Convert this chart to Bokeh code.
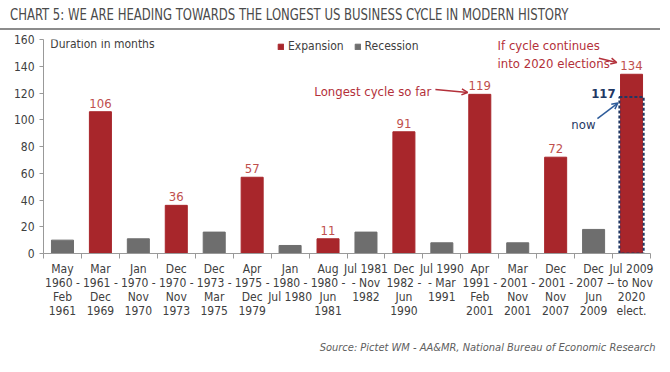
from bokeh.plotting import figure
from bokeh.models import (ColumnDataSource, Range1d, FixedTicker, Legend, LegendItem,
                          Label, Arrow, OpenHead, Title, Div)
from bokeh.layouts import column
from bokeh.core.properties import value
from bokeh.embed import file_html
from bokeh.resources import INLINE

FONT = "'DejaVu Sans Condensed', Roboto, sans-serif"

periods = ["May\n1960 -\nFeb\n1961", "Mar\n1961 -\nDec\n1969", "Jan\n1970 -\nNov\n1970",
           "Dec\n1970 -\nNov\n1973", "Dec\n1973 -\nMar\n1975", "Apr\n1975 -\nDec\n1979",
           "Jan\n1980 -\nJul 1980", "Aug\n1980 -\nJun\n1981", "Jul 1981\n- Nov\n1982",
           "Dec\n1982 -\nJun\n1990", "Jul 1990\n- Mar\n1991", "Apr\n1991 -\nFeb\n2001",
           "Mar\n2001 -\nNov\n2001", "Dec\n2001 -\nNov\n2007", "Dec\n2007 -\nJun\n2009",
           "Jul 2009\n- to Nov\n2020\nelect."]
phase = ["Recession", "Expansion"] * 8
durations = [10, 106, 11, 36, 16, 57, 6, 11, 16, 91, 8, 119, 8, 72, 18, 134]
current_months = 117
y_ticks = [0, 20, 40, 60, 80, 100, 120, 140, 160]

RED = "#A8262B"
GREY = "#6E6E6E"
LABEL_RED = "#C0504D"
NOTE_RED = "#B3303A"
NAVY = "#1F3864"

pos = [i + 0.5 for i in range(len(periods))]
exp = ColumnDataSource(dict(x=[p for p, ph in zip(pos, phase) if ph == "Expansion"],
                            top=[d for d, ph in zip(durations, phase) if ph == "Expansion"]))
exp.data["lbl"] = [str(v) for v in exp.data["top"]]
rec = ColumnDataSource(dict(x=[p for p, ph in zip(pos, phase) if ph == "Recession"],
                            top=[d for d, ph in zip(durations, phase) if ph == "Recession"]))

p = figure(frame_width=607, frame_height=214, output_backend="svg", toolbar_location=None,
           x_range=Range1d(0, len(periods)), y_range=Range1d(0, 160),
           min_border_left=43, min_border_right=12, min_border_top=9, min_border_bottom=4)
p.outline_line_color = None
p.grid.visible = False

r_rec = p.vbar(x="x", top="top", width=0.58, source=rec, color=GREY)
r_exp = p.vbar(x="x", top="top", width=0.58, source=exp, color=RED)
p.text(x="x", y="top", text="lbl", source=exp, y_offset=-4, text_align="center",
       text_baseline="bottom", text_color=LABEL_RED, text_font=value(FONT), text_font_size="13px")

# current cycle (dashed)
p.vbar(x=[pos[-1]], top=[current_months], width=0.64, fill_color=None, line_color=NAVY,
       line_width=2, line_dash="3 2")

# axes
xa = p.xaxis[0]
xa.ticker = FixedTicker(ticks=pos, minor_ticks=list(range(len(periods) + 1)))
xa.major_label_overrides = {p_: lab for p_, lab in zip(pos, periods)}
xa.major_tick_out = 0
xa.major_tick_in = 0
xa.minor_tick_out = 5
xa.minor_tick_in = 0
xa.minor_tick_line_color = "#999999"
xa.axis_line_color = "#999999"
xa.major_label_standoff = 3
xa.major_label_text_font = FONT
xa.major_label_text_font_size = "12px"
xa.major_label_text_line_height = 1.0
xa.major_label_text_color = "#404040"

ya = p.yaxis[0]
ya.ticker = FixedTicker(ticks=y_ticks)
ya.major_tick_out = 4
ya.major_tick_in = 0
ya.minor_tick_line_color = None
ya.axis_line_color = "#999999"
ya.major_tick_line_color = "#999999"
ya.major_label_text_font = FONT
ya.major_label_text_font_size = "12px"
ya.major_label_text_color = "#404040"
ya.major_label_standoff = 5

# legend
legend = Legend(items=[LegendItem(label="Expansion", renderers=[r_exp]),
                       LegendItem(label="Recession", renderers=[r_rec])],
                orientation="horizontal", location=(234, 200), border_line_color=None,
                background_fill_alpha=0, padding=0, margin=0, spacing=10,
                glyph_width=7, glyph_height=7, label_standoff=4, label_height=14,
                label_text_font=FONT, label_text_font_size="12px", label_text_color="#404040")
p.add_layout(legend, "center")

def note(x, y, text, color, size="13px", align="left", style="normal", baseline="middle"):
    p.add_layout(Label(x=x, y=y, text=text, text_color=color, text_font=FONT,
                       text_font_size=size, text_align=align, text_baseline=baseline,
                       text_font_style=style))

note(0.18, 157, "Duration in months", "#404040", size="12px")
note(10.22, 121.1, "Longest cycle so far", NOTE_RED, align="right")
note(11.97, 155.5, "If cycle continues", NOTE_RED)
note(11.97, 142.1, "into 2020 elections", NOTE_RED)
note(15.08, 119.6, str(current_months), NAVY, size="13px", align="right", style="bold")
note(14.55, 96.4, "now", NAVY, size="13px", align="right")

p.add_layout(Arrow(x_start=10.33, y_start=122.6, x_end=11.18, y_end=120.4, line_color=NOTE_RED,
                   line_width=1.5, end=OpenHead(size=6, line_color=NOTE_RED, line_width=1.5)))
p.add_layout(Arrow(x_start=14.64, y_start=146.0, x_end=15.11, y_end=142.8, line_color=NOTE_RED,
                   line_width=1.5, end=OpenHead(size=6, line_color=NOTE_RED, line_width=1.5)))
p.add_layout(Arrow(x_start=14.60, y_start=100.9, x_end=15.14, y_end=112.5, line_color="#2E5C9A",
                   line_width=1.5, end=OpenHead(size=6, line_color="#2E5C9A", line_width=1.5)))

src = Title(text="Source: Pictet WM - AA&MR, National Bureau of Economic Research", align="right",
            text_font=FONT, text_font_size="11px", text_font_style="italic",
            text_color="#606060", standoff=36, offset=-5)
p.add_layout(src, "below")

head = Div(text='<span style="display:inline-block; transform:scaleX(0.81); transform-origin:0 50%;">'
                'CHART 5: WE ARE HEADING TOWARDS THE LONGEST US BUSINESS CYCLE IN MODERN HISTORY</span>',
           width=660, height=30, margin=0,
           styles={"font-family": FONT, "font-size": "16px", "color": "#4a4a4a",
                   "border-bottom": "2px solid #8c8c8c", "padding-left": "10px", "padding-top": "5px",
                   "line-height": "20px", "box-sizing": "border-box", "white-space": "nowrap",
                   "overflow": "visible"})

layout = column(head, p, spacing=0)
open("out.html", "w").write(file_html(layout, INLINE))
